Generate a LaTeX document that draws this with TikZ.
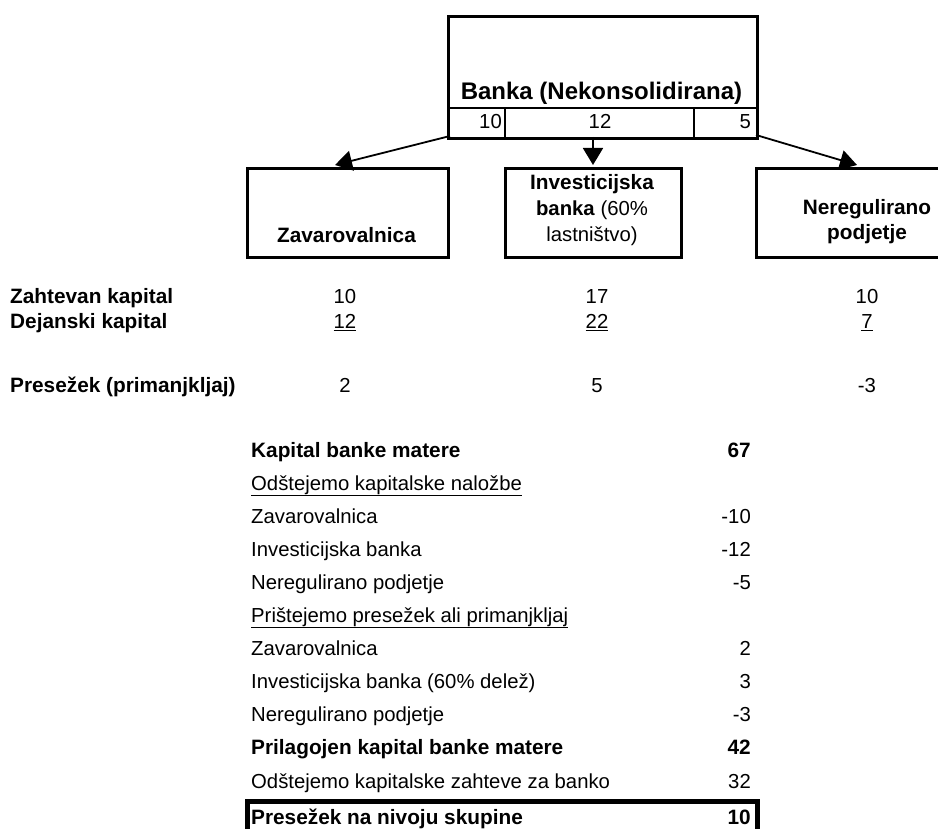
\documentclass[tikz,border=0pt]{standalone}
\usepackage{fontspec}
\setmainfont{Liberation Sans}
\usetikzlibrary{arrows.meta}
\begin{document}
\begin{tikzpicture}[x=1pt,y=-1pt,
  txt/.style={inner sep=0pt,font=\fontsize{20.3}{24}\selectfont},
  btxt/.style={txt,font=\fontsize{20.8}{24}\selectfont\bfseries},
  entity/.style={draw,line width=3pt,anchor=north west,inner sep=0pt},
  arr/.style={line width=1.8pt,-{Triangle[length=17pt,width=20pt]}},
  cellrule/.style={line width=2pt}]
\useasboundingbox (0,0) rectangle (938,829);
\clip (0,0) rectangle (938,829);

% parent bank with its three investment cells
\node[entity,minimum width=309pt,minimum height=122pt] (bank) at (447,15) {};
\node[btxt,anchor=base,font=\fontsize{24}{28}\selectfont\bfseries] (banktitle) at (601.5,100) {Banka (Nekonsolidirana)};
\draw[cellrule] (bank.west |- 0,108) -- (bank.east |- 0,108);
\draw[cellrule] (505,108) -- (505,137);
\draw[cellrule] (694,108) -- (694,137);
\node[txt,anchor=base east] (inv10) at (502,129) {10};
\node[txt,anchor=base] (inv12) at (600,129) {12};
\node[txt,anchor=base east] (inv5) at (751,129) {5};

% subsidiaries
\node[entity,minimum width=201pt,minimum height=89pt] (zav) at (246,167) {};
\node[btxt,anchor=base] (zavtxt) at (346.5,243) {Zavarovalnica};
\node[entity,minimum width=176pt,minimum height=89pt] (ib) at (504,167) {};
\node[btxt,anchor=base] (ibtxt1) at (592,190) {Investicijska};
\node[txt,anchor=base] (ibtxt2) at (592,216) {\textbf{banka} (60\%};
\node[txt,anchor=base] (ibtxt3) at (592,242) {lastništvo)};
\node[entity,minimum width=240pt,minimum height=89pt] (ner) at (755,167) {};
\node[btxt,anchor=base] (nertxt1) at (867,215) {Neregulirano};
\node[btxt,anchor=base] (nertxt2) at (867,240) {podjetje};

% ownership links
\coordinate (fromzav) at (450,136);
\coordinate (tozav) at (335,165);
\coordinate (fromib) at (593,137);
\coordinate (toib) at (593,165);
\coordinate (fromner) at (756,135);
\coordinate (toner) at (857,165);
\draw[arr] (fromzav) -- (tozav);
\draw[arr] (fromib) -- (toib);
\draw[arr] (fromner) -- (toner);

% capital of each subsidiary
\node[btxt,anchor=base west] (rq) at (10,304) {Zahtevan kapital};
\node[btxt,anchor=base west] (ac) at (10,329) {Dejanski kapital};
\node[btxt,anchor=base west] (sp) at (10,392) {Presežek (primanjkljaj)};
\node[txt,anchor=base] (rq1) at (345,304) {10};
\node[txt,anchor=base] (rq2) at (597,304) {17};
\node[txt,anchor=base] (rq3) at (867,304) {10};
\node[txt,anchor=base] (ac1) at (345,329) {\underline{12}};
\node[txt,anchor=base] (ac2) at (597,329) {\underline{22}};
\node[txt,anchor=base] (ac3) at (867,329) {\underline{7}};
\node[txt,anchor=base] (sp1) at (345,392) {2};
\node[txt,anchor=base] (sp2) at (597,392) {5};
\node[txt,anchor=base] (sp3) at (867,392) {-3};

% group capital calculation
\foreach \y/\lbl/\val/\st [count=\i] in {
  457/{Kapital banke matere}/67/btxt,
  490/{\underline{Odštejemo kapitalske naložbe}}//txt,
  523/Zavarovalnica/-10/txt,
  556/{Investicijska banka}/-12/txt,
  589/{Neregulirano podjetje}/-5/txt,
  622/{\underline{Prištejemo presežek ali primanjkljaj}}//txt,
  655/Zavarovalnica/2/txt,
  688/{Investicijska banka (60\% delež)}/3/txt,
  721/{Neregulirano podjetje}/-3/txt,
  754/{Prilagojen kapital banke matere}/42/btxt,
  788/{Odštejemo kapitalske zahteve za banko}/32/txt,
  824/{Presežek na nivoju skupine}/10/btxt}{
  \node[\st,anchor=base west] (l\i) at (251,\y) {\lbl};
  \node[\st,anchor=base east] (v\i) at (751,\y) {\val};
}
\node[draw,line width=4.5pt,anchor=north west,minimum width=510pt,minimum height=60pt,inner sep=0pt] (total) at (245,799) {};
\end{tikzpicture}
\end{document}
